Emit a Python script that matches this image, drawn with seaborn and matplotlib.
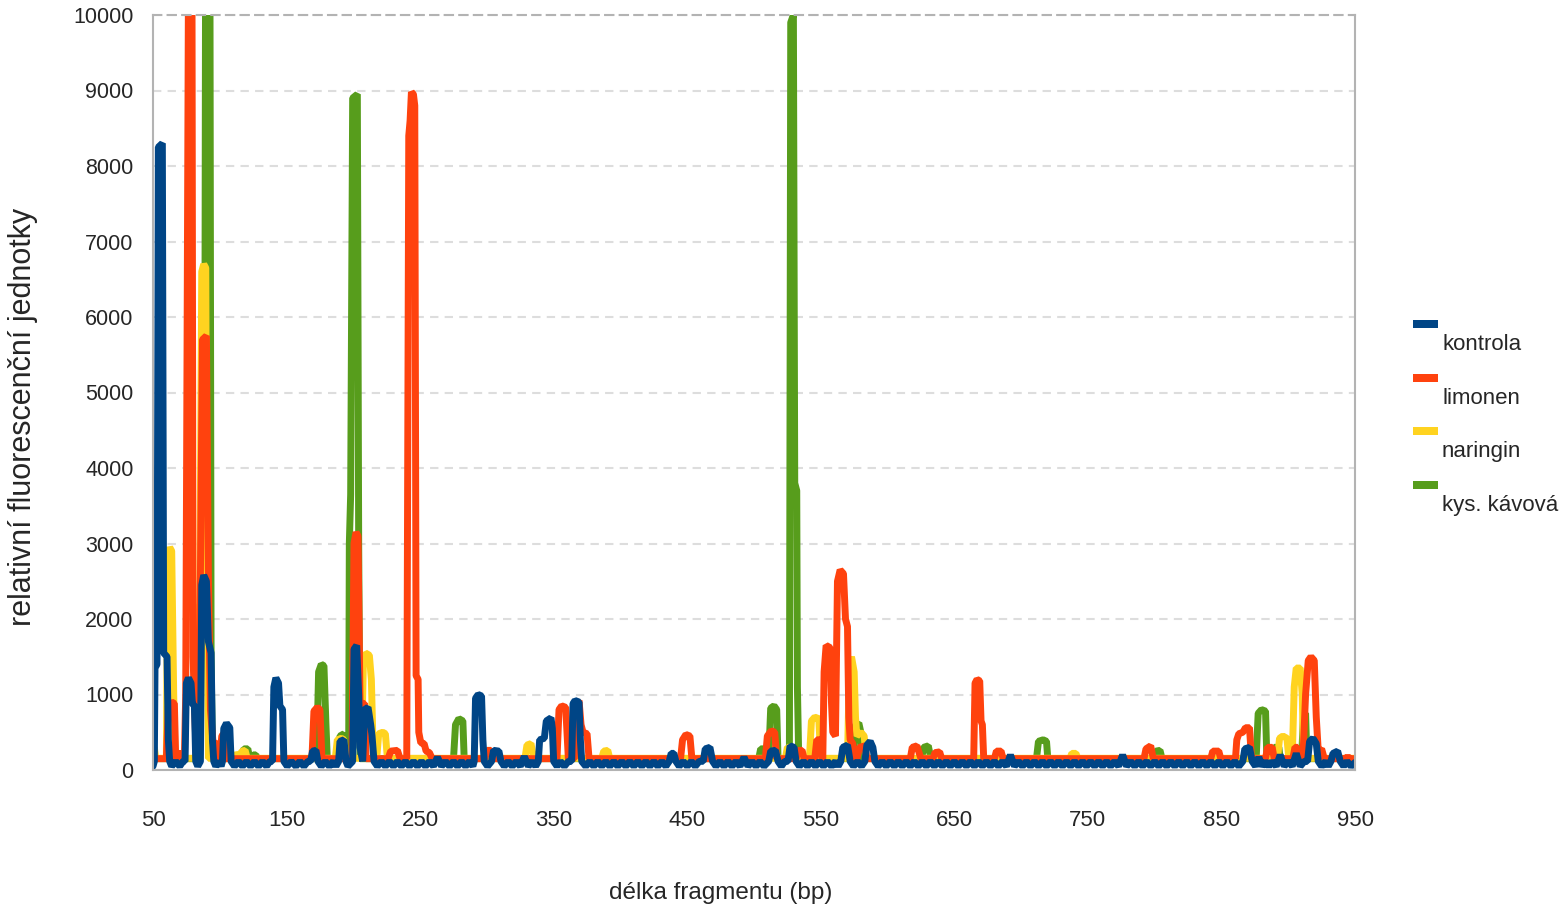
import matplotlib
matplotlib.use("Agg")
import matplotlib.pyplot as plt
from matplotlib.patches import Rectangle
import pandas as pd
import seaborn as sns

# electropherogram traces, (fragment length bp, relative fluorescence)
kontrola = [
    (50, 50), (51, 115), (51.5, 1350), (53, 1400), (54, 8250), (57, 8300), (58, 1550), (60.5, 1500),
    (61.5, 400), (62.5, 115), (64, 50), (67, 115), (70, 50), (72.5, 115), (74, 115), (75, 1150),
    (76.5, 1220), (78.5, 1150), (79.5, 880), (81, 850), (82, 115), (83.5, 50), (85.5, 115), (86.5, 2450),
    (88, 2580), (90, 2500), (91.5, 1700), (93.5, 1550), (94.5, 400), (95.5, 115), (97, 50), (99.5, 115),
    (101, 50), (102, 115), (103, 550), (105, 620), (107.5, 560), (108.5, 115), (111, 50), (114, 115),
    (117, 50), (120, 115), (123, 50), (126, 115), (129, 50), (132, 115), (135, 50), (137.5, 115),
    (139.5, 115), (140.5, 1100), (142, 1220), (144, 1150), (145, 850), (147, 800), (148, 115), (150.5, 50),
    (153.5, 115), (157, 50), (160, 115), (163, 50), (166, 115), (168, 115), (169.5, 250), (172, 260),
    (173.5, 115), (176, 50), (179, 115), (182, 50), (185, 115), (187, 50), (189, 115), (190, 380),
    (193, 400), (194.5, 115), (196, 50), (199.5, 115), (200.5, 1600), (202.5, 1650), (204, 1000),
    (205, 300), (207, 115), (208.5, 800), (211, 830), (213, 600), (214, 450), (215.5, 115), (218, 50),
    (221, 115), (224, 50), (227, 115), (230, 50), (233, 115), (236, 50), (239, 115), (242, 50),
    (245, 115), (248, 50), (251, 115), (254, 50), (257, 115), (260, 50), (263, 170), (266, 50),
    (269, 115), (272, 50), (275, 115), (278, 50), (281, 115), (284, 50), (287, 115), (289.5, 50),
    (290.5, 115), (291.5, 950), (293.5, 1000), (296, 980), (297, 400), (298, 115), (300.5, 50),
    (303.5, 115), (305, 260), (309, 250), (310.5, 115), (313, 50), (316, 115), (319, 50), (322, 115),
    (325, 50), (328, 180), (331, 50), (334, 115), (336.5, 50), (338.5, 115), (339.5, 400), (343, 420),
    (344.5, 650), (348, 690), (349, 550), (350, 115), (352.5, 50), (355, 115), (358, 50), (361, 115),
    (363.5, 115), (364.5, 880), (366, 920), (369, 900), (370, 400), (371, 115), (374, 50), (377, 115),
    (380, 50), (383, 115), (386, 50), (389, 115), (392, 50), (395, 115), (398, 50), (401, 115),
    (404, 50), (407, 115), (410, 50), (413, 115), (416, 50), (419, 115), (422, 50), (425, 115),
    (428, 50), (431, 115), (434, 50), (436.5, 115), (438, 220), (440, 220), (441.5, 115), (444, 50),
    (447, 115), (450, 50), (453, 115), (456, 50), (459, 115), (462, 115), (463.5, 280), (467, 300),
    (469, 115), (471.5, 50), (474.5, 115), (477.5, 50), (480.5, 115), (483.5, 50), (486.5, 115),
    (489.5, 50), (492.5, 170), (495.5, 50), (498.5, 115), (501.5, 50), (504.5, 115), (507.5, 50),
    (511, 115), (512.5, 250), (516, 260), (518, 115), (520.5, 50), (523, 115), (525.5, 115),
    (527, 320), (530, 300), (531.5, 115), (534, 50), (537, 115), (540, 50), (543, 115), (546, 50),
    (549, 115), (552, 50), (555, 115), (558, 50), (561, 115), (563, 50), (565, 115), (566.5, 300),
    (570, 330), (572, 115), (574.5, 50), (577.5, 115), (580.5, 50), (583, 115), (584.5, 330),
    (587, 380), (589, 300), (590.5, 115), (593, 50), (596, 115), (599, 50), (602, 115), (605, 50),
    (608, 115), (611, 50), (614, 115), (617, 50), (620, 115), (623, 50), (626, 115), (629, 50),
    (632, 115), (635, 50), (638, 115), (641, 50), (644, 115), (647, 50), (650, 115), (653, 50),
    (656, 115), (659, 50), (662, 115), (665, 50), (668, 115), (671, 50), (674, 115), (677, 50),
    (680, 115), (683, 50), (686, 115), (689, 50), (692, 200), (695, 50), (698, 115), (701, 50),
    (704, 115), (707, 50), (710, 115), (713, 50), (716, 115), (719, 50), (722, 115), (725, 50),
    (728, 115), (731, 50), (734, 115), (737, 50), (740, 115), (743, 50), (746, 115), (749, 50),
    (752, 115), (755, 50), (758, 115), (761, 50), (764, 115), (767, 50), (770, 115), (773, 50),
    (776, 200), (779, 50), (782, 115), (785, 50), (788, 115), (791, 50), (794, 115), (797, 50),
    (800, 115), (803, 50), (806, 115), (809, 50), (812, 115), (815, 50), (818, 115), (821, 50),
    (824, 115), (827, 50), (830, 115), (833, 50), (836, 115), (839, 50), (842, 115), (845, 50),
    (848, 115), (851, 50), (854, 115), (857, 50), (860, 115), (863, 50), (866, 115), (867.5, 280),
    (871, 300), (873, 115), (875.5, 50), (878, 170), (880.5, 50), (883, 115), (885.5, 50), (888, 115),
    (891, 50), (894, 200), (897, 50), (900, 115), (903, 50), (906, 220), (909, 50), (912, 115),
    (914.5, 115), (916, 380), (918.5, 420), (921, 350), (922.5, 115), (925, 50), (928, 115), (930, 50),
    (932, 115), (933.5, 220), (937, 250), (939, 115), (941.5, 50), (944, 115), (947, 50), (950, 100),
]

limonen = [
    (50, 150), (60, 150), (61.5, 850), (64, 900), (66, 880), (67, 150), (70, 150), (72, 250),
    (73.5, 150), (74.5, 1000), (77, 12500), (79, 12500), (80, 1500), (81, 900), (82.5, 150),
    (84, 150), (85, 1500), (87, 5700), (90, 5750), (91.5, 2500), (93, 800), (95, 350), (97, 380),
    (98, 150), (100, 150), (101.5, 450), (103, 480), (104, 150), (169, 150), (170.5, 780), (173, 830),
    (175, 800), (176.5, 150), (199, 150), (200.5, 3000), (202, 3150), (203.5, 3100), (205, 900),
    (207, 880), (208.5, 880), (209.5, 150), (226, 150), (228, 250), (233, 260), (235, 150),
    (240, 150), (241.5, 8400), (242.5, 8600), (243.5, 8980), (245, 8950), (246, 8800), (247, 1250),
    (248.5, 1200), (249, 500), (250.5, 360), (253, 350), (254.5, 250), (257, 230), (259, 150),
    (298.5, 150), (300, 260), (303, 260), (304.5, 150), (352.5, 150), (354, 800), (356, 850),
    (359, 830), (361, 150), (365.5, 150), (367, 880), (369, 920), (370.5, 600), (372, 500),
    (375, 480), (376.5, 150), (445, 150), (446.5, 400), (449, 470), (452, 450), (453.5, 150),
    (508.5, 150), (510, 450), (513, 520), (515.5, 500), (517, 150), (531.5, 150), (533, 260),
    (536, 260), (537.5, 150), (545.5, 150), (547, 400), (549.5, 400), (551, 150), (551.5, 150),
    (552.5, 1300), (554, 1650), (557, 1620), (558, 900), (559, 500), (561, 450), (562.5, 2500),
    (564.5, 2650), (567, 2600), (568.5, 2000), (570, 1900), (571, 700), (572, 400), (574, 350),
    (575, 150), (577, 150), (579, 300), (583, 320), (584.5, 150), (617, 150), (618.5, 300),
    (622, 320), (625, 150), (634, 150), (635.5, 230), (639, 240), (640.5, 150), (664.5, 150),
    (665.5, 1150), (667, 1200), (669, 1180), (670, 650), (671, 600), (672, 150), (680, 150),
    (681.5, 250), (685, 250), (686.5, 150), (792, 150), (793.5, 280), (797, 320), (799, 150),
    (842, 150), (843.5, 250), (848, 250), (849.5, 150), (860.5, 150), (861.5, 400), (863, 480),
    (866, 500), (868, 560), (871, 560), (872.5, 150), (883, 150), (884.5, 300), (888, 300),
    (889.5, 150), (903.5, 150), (905, 300), (907, 300), (908, 150), (911, 150), (913, 1000),
    (915, 1450), (917, 1500), (919.5, 1450), (921, 700), (922.5, 250), (925, 280), (927, 150),
    (943, 150), (944.5, 180), (946, 150), (950, 150),
]

naringin = [
    (50, 300), (51, 300), (52, 155), (60, 155), (61, 2800), (62.5, 2950), (64, 2900), (65.5, 1000),
    (66.5, 155), (82, 155), (83.5, 2100), (85, 2200), (86.5, 6600), (88, 6700), (89.5, 6650),
    (90.5, 2000), (91.5, 155), (110, 155), (111.5, 220), (115, 155), (116.5, 250), (119, 260),
    (120.5, 155), (186.5, 155), (188, 400), (191, 420), (193, 400), (194.5, 155), (206, 155),
    (207.5, 1400), (209, 1550), (212, 1520), (213.5, 1200), (214.5, 500), (215.5, 155), (217.5, 155),
    (219, 480), (222, 500), (224, 480), (225.5, 155), (328.5, 155), (330, 330), (333, 350),
    (335, 155), (386, 155), (387.5, 250), (390.5, 260), (392, 155), (523.5, 155), (525, 300),
    (528.5, 300), (530, 155), (541.5, 155), (543, 650), (545.5, 700), (548.5, 680), (550, 155),
    (570, 155), (571.5, 1400), (573, 1500), (575, 1300), (576, 700), (577, 450), (580, 500),
    (582.5, 450), (584, 155), (736.5, 155), (738, 220), (741, 220), (742.5, 155), (892, 155),
    (893.5, 420), (896, 450), (899, 420), (900.5, 155), (903, 155), (904.5, 1100), (906, 1350),
    (909, 1350), (910.5, 1000), (911.5, 155), (950, 155),
]

kys_kavova = [
    (50, 400), (51, 150), (83, 150), (84, 1900), (88.5, 2000), (89.5, 12000), (92.5, 12000),
    (93.5, 1500), (94.5, 150), (116, 150), (118, 280), (121, 280), (122.5, 150), (124, 150),
    (125, 200), (127, 200), (128, 150), (172.5, 150), (174, 1300), (176, 1400), (178, 1380),
    (179.5, 600), (180.5, 150), (189, 150), (190, 450), (193, 480), (194.5, 150), (196.5, 150),
    (197, 3000), (198, 3650), (199.5, 8900), (203, 8950), (204, 3000), (205, 150), (275, 150),
    (276.5, 600), (279, 680), (282, 650), (283, 150), (334, 150), (335, 200), (337, 200), (338, 150),
    (503.5, 150), (505, 280), (508, 280), (509.5, 150), (511, 150), (512.5, 820), (515, 850),
    (517, 800), (518, 150), (526.5, 150), (527.5, 9900), (529.5, 10000), (530.5, 3800), (532, 3700),
    (532.5, 1100), (533.5, 150), (574.5, 150), (576, 600), (578.5, 620), (580, 500), (581, 150),
    (625.5, 150), (627, 300), (630.5, 320), (632.5, 150), (711.5, 150), (713, 380), (716.5, 400),
    (719, 380), (720, 150), (799.5, 150), (801, 250), (804, 260), (805.5, 150), (876, 150),
    (877.5, 750), (880, 800), (883, 780), (884, 150), (888, 150), (889.5, 300), (893, 300), (894, 150),
    (910, 150), (911.5, 750), (913, 750), (914, 150), (950, 150),
]

legend_names = ["kontrola", "limonen", "naringin", "kys. kávová"]
colors = ["#004586", "#ff420e", "#ffd320", "#579d1c"]
x_ticks = [50, 150, 250, 350, 450, 550, 650, 750, 850, 950]
y_ticks = list(range(0, 10001, 1000))

rows = []
for name, pts in zip(legend_names, [kontrola, limonen, naringin, kys_kavova]):
    for bp, rfu in pts:
        rows.append({"bp": bp, "rfu": rfu, "vzorek": name})
df = pd.DataFrame(rows)

sns.set_style("white")
plt.rcParams["font.family"] = ["Liberation Sans", "DejaVu Sans"]
grey = "#b3b3b3"

fig = plt.figure(figsize=(15.67, 9.10), dpi=100)
ax = fig.add_axes([153 / 1567, 1 - 770 / 910, 1202 / 1567, 755 / 910])

# draw the last legend entry first so kontrola ends on top
sns.lineplot(data=df, x="bp", y="rfu", hue="vzorek", hue_order=legend_names[::-1],
             palette=dict(zip(legend_names, colors)), estimator=None, sort=False,
             linewidth=5, solid_joinstyle="bevel", legend=False, ax=ax)

ax.set_xlim(50, 950)
ax.set_ylim(0, 10000)
ax.set_xticks(x_ticks)
ax.set_yticks(y_ticks)
ax.set_xticklabels([str(t) for t in x_ticks], fontsize=16)
ax.set_yticklabels([str(t) for t in y_ticks], fontsize=15.5)
ax.tick_params(axis="y", direction="out", length=8, width=1.5, color=grey, pad=6)
ax.tick_params(axis="x", direction="out", length=9, width=1.5, color=grey, pad=20)
ax.yaxis.grid(True, color="#dddddd", linewidth=1.5, linestyle=(0, (4, 3)))
ax.set_axisbelow(True)
for side in ["left", "right", "bottom"]:
    ax.spines[side].set_color(grey)
    ax.spines[side].set_linewidth(1.5)
ax.spines["top"].set_color(grey)
ax.spines["top"].set_linewidth(1.5)
ax.spines["top"].set_linestyle((0, (4, 3)))

ax.set_xlabel("délka fragmentu (bp)", fontsize=17.5, va="center")
ax.xaxis.set_label_coords(0.472, -0.163)
ax.set_ylabel("relativní fluorescenční jednotky", fontsize=22, va="center")
ax.yaxis.set_label_coords(-0.1085, 0.467)

# legend: swatch above and left of each label
for i, (name, col) in enumerate(zip(legend_names, colors)):
    top = 320 + i * 53.5
    fig.add_artist(Rectangle((1413 / 1567, 1 - (top + 8) / 910), 25 / 1567, 8 / 910,
                             transform=fig.transFigure, color=col, lw=0))
    fig.text(1442 / 1567, 1 - (top + 30) / 910, name, fontsize=16,
             va="baseline", ha="left")

fig.savefig("out.png", dpi=100)
